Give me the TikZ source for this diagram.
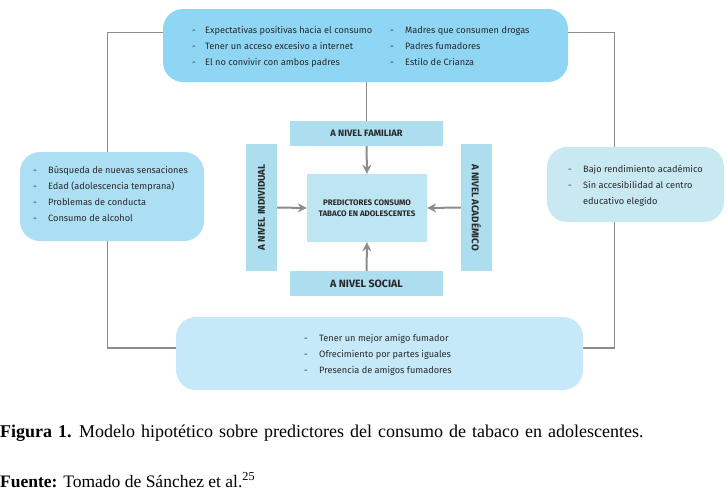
\documentclass[tikz,border=0pt]{standalone}
\usepackage{fontspec}
\setmainfont{Liberation Serif}
\newfontfamily\dsans{Fira Sans}
\usetikzlibrary{arrows.meta,backgrounds}
\definecolor{topc}{RGB}{143,214,245}
\definecolor{leftc}{RGB}{172,223,243}
\definecolor{rightc}{RGB}{200,232,242}
\definecolor{botc}{RGB}{197,233,249}
\definecolor{levc}{RGB}{172,222,240}
\definecolor{cenc}{RGB}{190,229,242}
\definecolor{txt}{RGB}{40,40,40}
\definecolor{linec}{RGB}{140,140,140}
\newcommand\itm[5]{\node[itm] (#1) at (#2,#3) {\makebox[#4pt][l]{-}#5};}
\begin{document}
\begin{tikzpicture}[x=1pt,y=-1pt,
  rbox/.style={rounded corners=20pt, inner sep=0pt},
  lbox/.style={fill=levc, inner sep=0pt},
  itm/.style={anchor=base west, inner sep=0pt, font=\dsans\fontsize{9.2}{11}\selectfont, text=txt},
  lev/.style={font=\dsans\bfseries\fontsize{9.3}{11}\selectfont, text=txt, inner sep=0pt},
  frame/.style={draw=linec, line width=1.3pt},
  arr/.style={draw=linec, line width=2pt, -{Stealth[length=9pt,width=9pt,inset=3pt]}}]
\useasboundingbox (0,0) rectangle (728,501);
% boxes
\node[rbox, fill=topc, minimum width=405pt, minimum height=73pt] (top) at (365.5,45.5) {};
\node[rbox, fill=leftc, minimum width=184pt, minimum height=89pt] (left) at (112,196.5) {};
\node[rbox, fill=rightc, minimum width=177pt, minimum height=75pt] (right) at (635.5,184.5) {};
\node[rbox, fill=botc, minimum width=407pt, minimum height=73pt] (bot) at (379.5,353.5) {};
\node[lbox, minimum width=153pt, minimum height=25pt] (fam) at (366.5,133.5) {};
\node[lbox, minimum width=153pt, minimum height=25pt] (soc) at (366.5,283.5) {};
\node[lbox, minimum width=31pt, minimum height=127pt] (ind) at (261.5,207.5) {};
\node[lbox, minimum width=31pt, minimum height=127pt] (aca) at (476.5,207.5) {};
\node[fill=cenc, inner sep=0pt, minimum width=120pt, minimum height=68pt] (cen) at (367,208) {};
% frame lines behind
\coordinate (fTL) at (107.5,32.5);
\coordinate (fBR) at (614.5,348);
\begin{scope}[on background layer]
\draw[frame] (top.west |- fTL) -- (fTL) |- (bot.west |- fBR);
\draw[frame] (top.east |- fTL) -| (fBR) -- (bot.east |- fBR);
\draw[frame] (top.south -| fam.north) -- (fam.north);
\end{scope}
% arrows
\draw[arr] (fam.south) -- (cen.north);
\draw[arr] (soc.north) -- (cen.south);
\draw[arr] (ind.east) -- (cen.west);
\draw[arr] (aca.west) -- (cen.east);
% level labels
\node[lev] (famt) at (fam.center) {A NIVEL FAMILIAR};
\node[lev, font=\dsans\bfseries\fontsize{10.6}{12}\selectfont] (soct) at (soc.center) {A NIVEL SOCIAL};
\node[lev, rotate=90, font=\dsans\bfseries\fontsize{9.8}{12}\selectfont] (indt) at (ind.center) {A NIVEL INDIVIDUAL};
\node[lev, rotate=-90, font=\dsans\bfseries\fontsize{9.8}{12}\selectfont] (acat) at (aca.center) {A NIVEL ACADÉMICO};
\node[lev, font=\dsans\bfseries\fontsize{8}{11.5}\selectfont, align=center] (cent) at (cen.center) {PREDICTORES CONSUMO\\TABACO EN ADOLESCENTES};
% top items
\itm{t1}{192}{33}{13}{Expectativas positivas hacia el consumo}
\itm{t2}{192}{49}{13}{Tener un acceso excesivo a internet}
\itm{t3}{192}{65}{13}{El no convivir con ambos padres}
\itm{t4}{390}{33}{15}{Madres que consumen drogas}
\itm{t5}{390}{49}{15}{Padres fumadores}
\itm{t6}{390}{65}{15}{Estilo de Crianza}
% left items
\itm{l1}{33}{173}{15}{Búsqueda de nuevas sensaciones}
\itm{l2}{33}{189}{15}{Edad (adolescencia temprana)}
\itm{l3}{33}{205}{15}{Problemas de conducta}
\itm{l4}{33}{221}{15}{Consumo de alcohol}
% right items
\itm{r1}{568}{172}{15}{Bajo rendimiento académico}
\itm{r2}{568}{188}{15}{Sin accesibilidad al centro}
\node[itm] (r3) at (583,204) {educativo elegido};
% bottom items
\itm{b1}{304}{341}{15}{Tener un mejor amigo fumador}
\itm{b2}{304}{357}{15}{Ofrecimiento por partes iguales}
\itm{b3}{304}{373}{15}{Presencia de amigos fumadores}
% caption
\node[anchor=base west, inner sep=0pt, font=\fontsize{18}{20}\selectfont] (cap) at (0,437) {\spaceskip=6pt plus 1pt\relax\textbf{Figura 1.} Modelo hipotético sobre predictores del consumo de tabaco en adolescentes.};
\node[anchor=base west, inner sep=0pt, font=\fontsize{17.5}{20}\selectfont] (src) at (0,487) {\textbf{Fuente:} Tomado de Sánchez et al.\textsuperscript{25}};
\end{tikzpicture}
\end{document}
